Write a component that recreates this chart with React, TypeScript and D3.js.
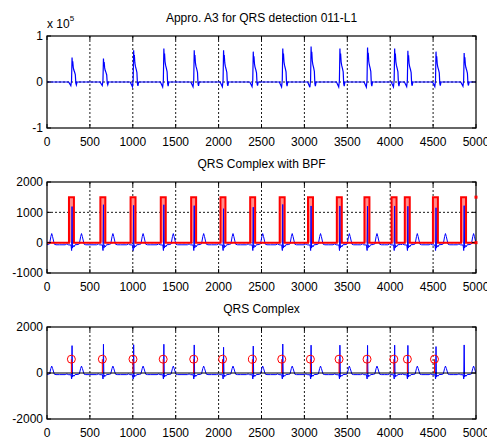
import React from 'react';
import * as d3 from 'd3';

// R-peak sample positions (first one sits before the record, only its T wave shows)
const rPeaks = [-55, 292, 658, 1010, 1362, 1716, 2058, 2404, 2748, 3078, 3414, 3736, 4052, 4206, 4534, 4862];
// A3 approximation peak heights (x 10^5)
const a3Peaks = [0, 0.53, 0.51, 0.69, 0.73, 0.69, 0.69, 0.66, 0.73, 0.77, 0.73, 0.75, 0.73, 0.68, 0.66, 0.63];
// R amplitudes of the band-passed ECG
const rAmps = [1200, 1190, 1250, 1230, 1250, 1220, 1120, 1170, 1260, 1210, 1210, 1200, 1210, 1200, 1150, 1220];

// one beat of the A3 signal: sample offset from R, fraction of the peak
const a3ShapeOff = [-40, -14, -6, 0, 4, 8, 14, 20, 30, 38, 44, 50, 58];
const a3ShapeVal = [0, -0.15, 0.05, 1, 0.7, 0.85, 0.6, 0.5, 0.4, 0.3, -0.05, -0.12, 0];

// one beat of the filtered ECG: sample offset from R, value (R itself comes from rAmps)
const ecgShapeOff = [-80, -60, -45, -12, -5, 0, 5, 12, 22, 35, 70, 85, 100, 110, 120, 140, 160, 200];
const ecgShapeVal = [-70, -40, -70, -80, -260, 0, -180, -90, -140, -70, -60, -40, 200, 300, 200, -50, -70, -70];
const R_INDEX = 5;

// BPF detection window (red square wave)
const pulseOn = [256, 622, 974, 1326, 1680, 2022, 2368, 2712, 3042, 3378, 3700, 4016, 4170, 4498, 4826];
const pulseOff = [314, 680, 1032, 1384, 1738, 2080, 2426, 2770, 3100, 3436, 3758, 4074, 4228, 4556, 4884];
const pulseHigh = 1500;

// detected QRS complexes (stems)
const detectPos = [284, 645, 1002, 1354, 1710, 2046, 2394, 2736, 3070, 3404, 3730, 4042, 4200, 4516];
const detectVal = [600, 600, 600, 600, 600, 600, 600, 600, 600, 600, 600, 600, 600, 600];

const xTicks = [0, 500, 1000, 1500, 2000, 2500, 3000, 3500, 4000, 4500, 5000];
const topTicks = [-1, 0, 1];
const midTicks = [-1000, 0, 1000, 2000];
const botTicks = [-2000, 0, 2000];

const W = 487;
const H = 440;
const FONT = '"Liberation Sans", Arial, sans-serif';

const x = d3.scaleLinear().domain([0, 5000]).range([47, 476]);

const buildTrace = (offs, vals, scaled) => {
  const pts = [];
  rPeaks.forEach((r, i) => {
    const next = rPeaks[i + 1];
    offs.forEach((o, k) => {
      const sx = r + o;
      if (next !== undefined && sx >= next + offs[0]) return;
      let v;
      if (scaled) v = vals[k] * a3Peaks[i];
      else v = k === R_INDEX ? rAmps[i] : vals[k];
      pts.push([sx, v]);
    });
  });
  pts.push([5100, pts[pts.length - 1][1]]);
  return pts;
};

const a3Trace = buildTrace(a3ShapeOff, a3ShapeVal, true);
const ecgTrace = buildTrace(ecgShapeOff, ecgShapeVal, false);

const Axes = ({ id, y, ticks, title, gridY, children }) => {
  const [top, bottom] = y.range().slice().reverse();
  const x0 = x.range()[0];
  const x1 = x.range()[1];
  return (
    <g>
      <defs>
        <clipPath id={id}>
          <rect x={x0} y={top} width={x1 - x0} height={bottom - top} />
        </clipPath>
      </defs>
      <text x={(x0 + x1) / 2} y={top - 14} textAnchor="middle" fontSize={12} fontFamily={FONT}>{title}</text>
      {/* dotted grid */}
      {xTicks.slice(1, -1).map(t => (
        <line key={'gx' + t} x1={x(t)} x2={x(t)} y1={top} y2={bottom}
          stroke="#000" strokeWidth={0.9} strokeDasharray="2 2" />
      ))}
      {gridY.map(t => (
        <line key={'gy' + t} x1={x0} x2={x1} y1={y(t)} y2={y(t)}
          stroke="#000" strokeWidth={0.9} strokeDasharray="2 2" />
      ))}
      <g clipPath={`url(#${id})`}>{children}</g>
      <rect x={x0} y={top} width={x1 - x0} height={bottom - top} fill="none" stroke="#000" strokeWidth={1.2} />
      {xTicks.map(t => (
        <g key={'tx' + t}>
          <line x1={x(t)} x2={x(t)} y1={bottom} y2={bottom - 4} stroke="#000" />
          <line x1={x(t)} x2={x(t)} y1={top} y2={top + 4} stroke="#000" />
          <text x={x(t)} y={bottom + 18} textAnchor="middle" fontSize={12} fontFamily={FONT}>{t}</text>
        </g>
      ))}
      {ticks.map(t => (
        <g key={'ty' + t}>
          <line x1={x0} x2={x0 + 4} y1={y(t)} y2={y(t)} stroke="#000" />
          <line x1={x1} x2={x1 - 4} y1={y(t)} y2={y(t)} stroke="#000" />
          <text x={43} y={y(t)} dy="0.36em" textAnchor="end" fontSize={12} fontFamily={FONT}>{t}</text>
        </g>
      ))}
    </g>
  );
};

const App = () => {
  const yTop = d3.scaleLinear().domain([-1, 1]).range([128, 36]);
  const yMid = d3.scaleLinear().domain([-1000, 2000]).range([273, 182]);
  const yBot = d3.scaleLinear().domain([-2000, 2000]).range([419, 327]);

  const lineTop = d3.line().x(d => x(d[0])).y(d => yTop(d[1]));
  const lineMid = d3.line().x(d => x(d[0])).y(d => yMid(d[1]));
  const lineBot = d3.line().x(d => x(d[0])).y(d => yBot(d[1]));

  const square = [[0, 0]];
  pulseOn.forEach((on, i) => {
    square.push([on, 0], [on, pulseHigh], [pulseOff[i], pulseHigh], [pulseOff[i], 0]);
  });
  square.push([5000, 0]);

  return (
    <svg width={W} height={H} style={{ position: 'absolute', left: 0, top: 0, background: '#fff' }}>
      <rect width={W} height={H} fill="#fff" />

      <text x={47} y={28} fontSize={12} fontFamily={FONT}>
        x 10<tspan fontSize={8} dy={-7}>5</tspan>
      </text>
      <Axes id="cTop" y={yTop} ticks={topTicks} gridY={[0]} title="Appro. A3 for QRS detection 011-L1">
        <path d={lineTop(a3Trace)} fill="none" stroke="#0000ff" strokeWidth={1.2} />
      </Axes>

      <Axes id="cMid" y={yMid} ticks={midTicks} gridY={[0, 1000]} title="QRS Complex with BPF">
        {pulseOn.map((on, i) => (
          <rect key={i} x={x(on)} y={yMid(pulseHigh)} width={x(pulseOff[i]) - x(on)}
            height={yMid(0) - yMid(pulseHigh)} fill="#ff8c8c" />
        ))}
        <path d={lineMid(ecgTrace)} fill="none" stroke="#0000ff" strokeWidth={1} />
        <path d={lineMid(square)} fill="none" stroke="#ff0000" strokeWidth={2} />
      </Axes>
      <rect x={x(5000) - 1.5} y={yMid(pulseHigh) - 1.5} width={3} height={3} fill="#ff0000" />
      <rect x={x(5000) - 1.5} y={yMid(0) - 1.5} width={3} height={3} fill="#ff0000" />

      <Axes id="cBot" y={yBot} ticks={botTicks} gridY={[]} title="QRS Complex">
        <path d={lineBot(ecgTrace)} fill="none" stroke="#0000ff" strokeWidth={1} />
        <line x1={x(0)} x2={x(5000)} y1={yBot(0)} y2={yBot(0)} stroke="#000" strokeWidth={1} />
        {detectPos.map((d, i) => (
          <g key={i}>
            <line x1={x(d)} x2={x(d)} y1={yBot(0)} y2={yBot(detectVal[i])} stroke="#ff0000" strokeWidth={1} />
            <circle cx={x(d)} cy={yBot(detectVal[i])} r={4} fill="none" stroke="#ff0000" strokeWidth={1} />
          </g>
        ))}
      </Axes>
    </svg>
  );
};

export default App;
